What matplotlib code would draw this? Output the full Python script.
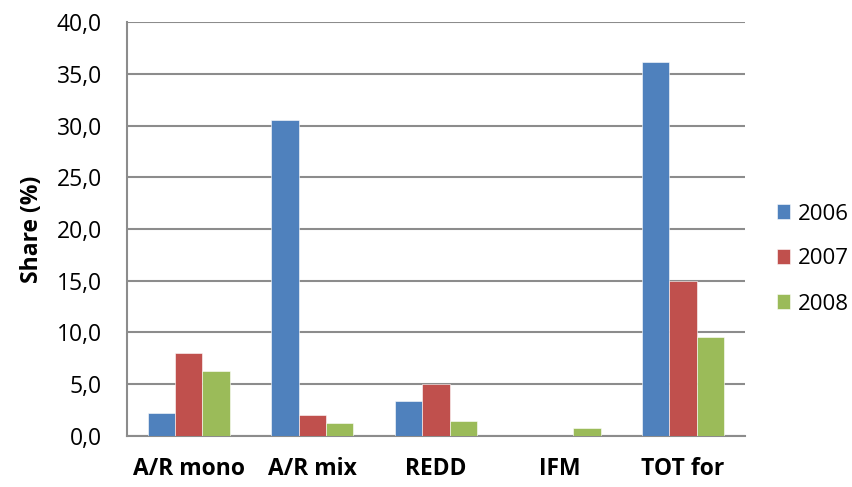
import matplotlib
matplotlib.use("Agg")
import matplotlib.pyplot as plt
import numpy as np

categories = ["A/R mono", "A/R mix", "REDD", "IFM", "TOT for"]
years = ["2006", "2007", "2008"]
share_2006 = [2.2, 30.6, 3.4, 0.0, 36.2]
share_2007 = [8.0, 2.0, 5.0, 0.0, 15.0]
share_2008 = [6.3, 1.2, 1.4, 0.8, 9.6]
yticks = [0, 5, 10, 15, 20, 25, 30, 35, 40]

colors = ["#4F81BD", "#C0504D", "#9BBB59"]
plt.rcParams["font.family"] = ["Open Sans", "DejaVu Sans"]
fs = 16.5

fig = plt.figure(figsize=(8.52, 4.87), dpi=100)
ax = fig.add_axes([0.149, 0.105, 0.725, 0.849])

x = np.arange(len(categories))
width = 0.667 / 3
for i, (vals, lab) in enumerate(zip([share_2006, share_2007, share_2008], years)):
    ax.bar(x + (i - 1) * width, vals, width, color=colors[i], label=lab,
           edgecolor="#ffffff", linewidth=0.4, zorder=3)

ax.set_xlim(-0.5, len(categories) - 0.5)
ax.set_ylim(0, 40)
ax.set_yticks(yticks)
ax.set_yticklabels([f"{v:.1f}".replace(".", ",") for v in yticks], fontsize=fs)
ax.set_xticks(x)
ax.set_xticklabels(categories, fontsize=fs, fontweight="bold")
ax.tick_params(axis="x", length=0, pad=15)
ax.tick_params(axis="y", length=0, pad=18)
ax.yaxis.grid(True, color="#8c8c8c", linewidth=1.5, zorder=0)
ax.set_axisbelow(True)
for s in ["top", "right"]:
    ax.spines[s].set_visible(False)
for s in ["left", "bottom"]:
    ax.spines[s].set_color("#8c8c8c")
    ax.spines[s].set_linewidth(1.5)

ax.set_ylabel("Share (%)", fontsize=fs, fontweight="bold", labelpad=9)

fig.legend(loc="center left", bbox_to_anchor=(0.901, 1 - 259 / 487), frameon=False,
           borderaxespad=0, fontsize=16, handlelength=0.62, handleheight=0.62,
           labelspacing=1.08, handletextpad=0.35)

fig.savefig("out.png", dpi=100)
